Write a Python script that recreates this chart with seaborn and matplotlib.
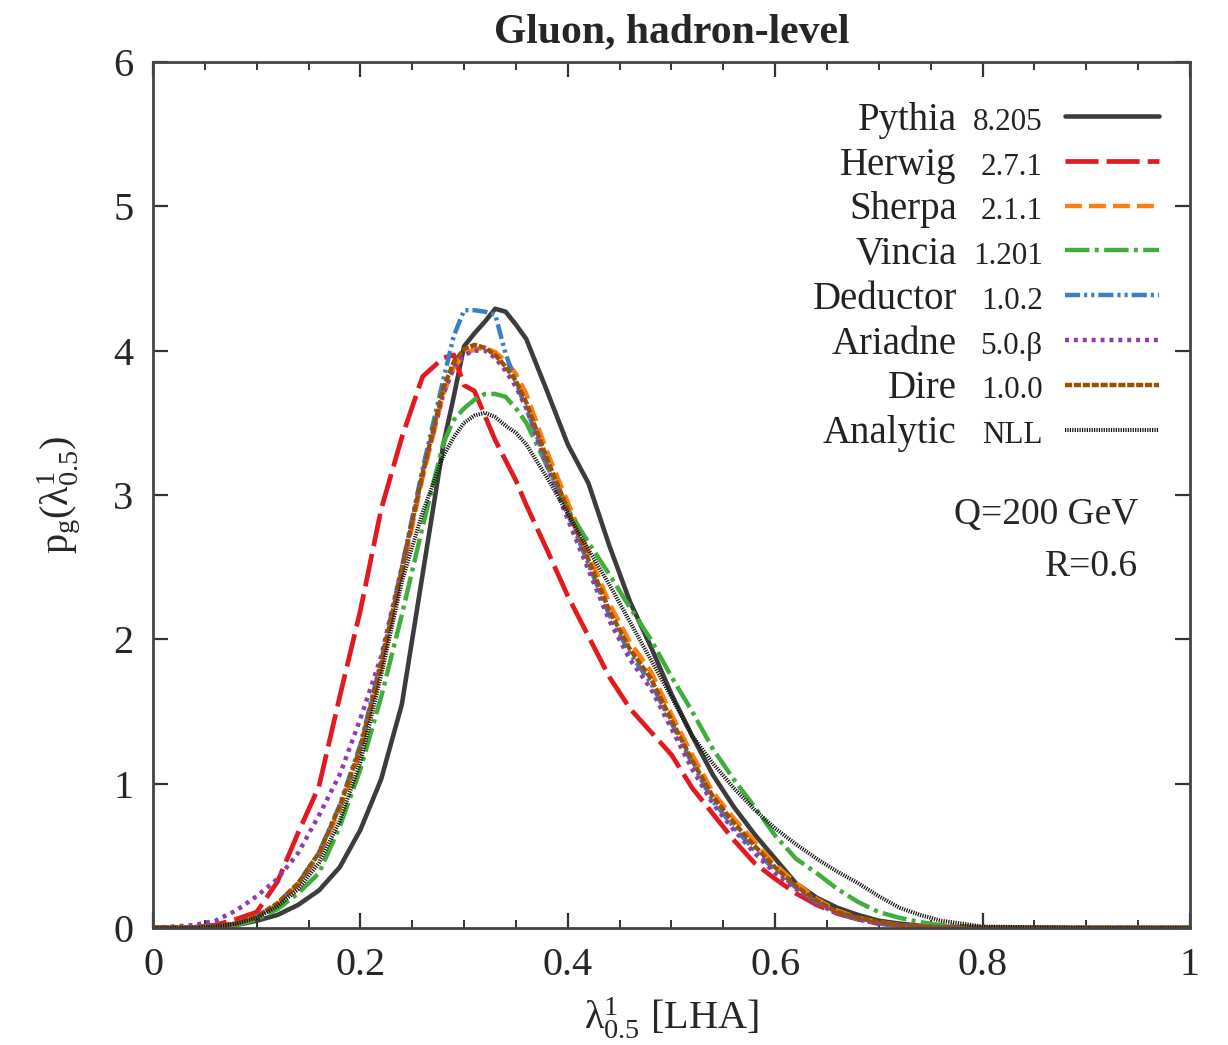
import numpy as np
import pandas as pd
import matplotlib
matplotlib.use("Agg")
import matplotlib.pyplot as plt
import seaborn as sns
from matplotlib.legend_handler import HandlerLine2D
from matplotlib.text import Text
from matplotlib.ticker import MultipleLocator

# ---------------- data ----------------
x = [0.00, 0.04, 0.06, 0.08, 0.10, 0.12, 0.14, 0.16, 0.18, 0.20, 0.22, 0.24, 0.26, 0.28,
     0.29, 0.30, 0.31, 0.32, 0.33, 0.34, 0.35, 0.36,
     0.38, 0.40, 0.42, 0.44, 0.46, 0.48, 0.50, 0.52, 0.54, 0.56, 0.58, 0.60, 0.62, 0.64,
     0.66, 0.68, 0.70, 0.72, 0.74, 0.76, 0.80, 0.90, 1.00]

pythia = [0.0, 0.0, 0.01, 0.02, 0.05, 0.09, 0.16, 0.26, 0.42, 0.68, 1.03, 1.55, 2.45, 3.35,
          3.68, 4.03, 4.12, 4.20, 4.29, 4.27, 4.18, 4.08,
          3.72, 3.35, 3.08, 2.65, 2.26, 1.95, 1.62, 1.33, 1.06, 0.84, 0.65, 0.48, 0.31, 0.21,
          0.14, 0.09, 0.05, 0.03, 0.015, 0.01, 0.0, 0.0, 0.0]
herwig = [0.0, 0.005, 0.02, 0.06, 0.11, 0.32, 0.66, 0.98, 1.60, 2.20, 2.90, 3.40, 3.82, 3.95,
          3.97, 3.76, 3.72, 3.55, 3.38, 3.24, 3.10, 2.93,
          2.62, 2.30, 2.02, 1.74, 1.52, 1.36, 1.20, 0.97, 0.79, 0.61, 0.45, 0.34, 0.24, 0.16,
          0.10, 0.06, 0.03, 0.02, 0.01, 0.005, 0.0, 0.0, 0.0]
sherpa = [0.0, 0.005, 0.01, 0.03, 0.08, 0.16, 0.30, 0.50, 0.82, 1.22, 1.80, 2.45, 3.12, 3.70,
          3.88, 3.97, 4.01, 4.02, 3.99, 3.93, 3.84, 3.70,
          3.30, 2.95, 2.60, 2.25, 1.98, 1.78, 1.48, 1.20, 0.94, 0.76, 0.60, 0.44, 0.31, 0.20,
          0.12, 0.07, 0.04, 0.02, 0.01, 0.005, 0.0, 0.0, 0.0]
vincia = [0.0, 0.0, 0.01, 0.02, 0.06, 0.13, 0.24, 0.38, 0.70, 1.10, 1.60, 2.17, 2.78, 3.36,
          3.52, 3.60, 3.66, 3.70, 3.70, 3.68, 3.60, 3.50,
          3.20, 2.90, 2.67, 2.45, 2.22, 2.00, 1.74, 1.50, 1.24, 1.03, 0.84, 0.64, 0.48, 0.38,
          0.27, 0.18, 0.11, 0.07, 0.04, 0.02, 0.005, 0.0, 0.0]
deductor = [0.0, 0.005, 0.01, 0.03, 0.08, 0.17, 0.31, 0.52, 0.85, 1.27, 1.85, 2.50, 3.18, 3.80,
            4.10, 4.28, 4.28, 4.27, 4.25, 3.98, 3.78, 3.60,
            3.22, 2.87, 2.52, 2.17, 1.90, 1.70, 1.42, 1.14, 0.88, 0.70, 0.54, 0.40, 0.28, 0.18,
            0.11, 0.06, 0.03, 0.02, 0.01, 0.005, 0.0, 0.0, 0.0]
ariadne = [0.0, 0.02, 0.05, 0.12, 0.22, 0.34, 0.52, 0.78, 1.06, 1.45, 1.88, 2.50, 3.15, 3.70,
           3.88, 3.97, 4.00, 4.00, 3.95, 3.86, 3.75, 3.60,
           3.20, 2.83, 2.48, 2.13, 1.86, 1.66, 1.38, 1.10, 0.86, 0.68, 0.52, 0.38, 0.27, 0.17,
           0.10, 0.06, 0.03, 0.02, 0.01, 0.005, 0.0, 0.0, 0.0]
dire = [0.0, 0.005, 0.01, 0.03, 0.08, 0.17, 0.31, 0.52, 0.84, 1.25, 1.83, 2.48, 3.15, 3.74,
        3.92, 4.01, 4.04, 4.02, 3.97, 3.89, 3.79, 3.64,
        3.25, 2.90, 2.55, 2.20, 1.93, 1.73, 1.44, 1.16, 0.91, 0.73, 0.57, 0.42, 0.29, 0.19,
        0.11, 0.07, 0.04, 0.02, 0.01, 0.005, 0.0, 0.0, 0.0]
nll = [0.0, 0.0, 0.01, 0.03, 0.07, 0.15, 0.27, 0.45, 0.74, 1.15, 1.75, 2.40, 2.88, 3.27,
       3.40, 3.50, 3.55, 3.57, 3.54, 3.48, 3.43, 3.35,
       3.12, 2.87, 2.62, 2.38, 2.12, 1.86, 1.60, 1.33, 1.14, 0.97, 0.82, 0.69, 0.58, 0.48,
       0.39, 0.31, 0.22, 0.14, 0.09, 0.05, 0.01, 0.0, 0.0]

names = ["Pythia", "Herwig", "Sherpa", "Vincia", "Deductor", "Ariadne", "Dire", "Analytic"]
versions = ["8.205", "2.7.1", "2.1.1", "1.201", "1.0.2", "5.0.\u03b2", "1.0.0", "NLL"]
series = [pythia, herwig, sherpa, vincia, deductor, ariadne, dire, nll]

x_ticks = [0, 0.2, 0.4, 0.6, 0.8, 1]
x_tick_labels = ["0", "0.2", "0.4", "0.6", "0.8", "1"]
y_ticks = [0, 1, 2, 3, 4, 5, 6]

# ---------------- styles ----------------
colors = ["#3c3c3c", "#e3191f", "#ff7f0e", "#3fae3a", "#3a7fc4", "#8e3db0", "#9a5200", "#111111"]
lws = [3.3, 3.4, 3.2, 3.2, 3.2, 3.2, 3.2, 2.9]
styles = ["-", (0, (7.0, 1.7)), (0, (3.8, 1.6)), (0, (5.5, 1.2, 0.9, 1.2)),
          (0, (3.4, 0.9, 0.7, 0.9, 0.7, 0.9)), (0, (0.9, 1.1)), (0, (1.6, 0.4)),
          (0, (0.3, 0.3))]

serif = "Liberation Serif"
sns.set_theme(style="ticks")
plt.rcParams["font.family"] = [serif, "DejaVu Serif"]
plt.rcParams["mathtext.fontset"] = "custom"
plt.rcParams["mathtext.rm"] = serif
plt.rcParams["mathtext.it"] = serif + ":italic"
plt.rcParams["mathtext.bf"] = serif + ":bold"

fig = plt.figure(figsize=(12.28, 10.45), dpi=100)
ax = fig.add_axes([0.1246, 0.112, 0.8444, 0.8287])

df = pd.DataFrame({"x": x})
lines = []
for name, vals, c, lw, ls in zip(names, series, colors, lws, styles):
    df[name] = vals
    sns.lineplot(data=df, x="x", y=name, ax=ax, color=c, linewidth=lw, linestyle=ls,
                 legend=False, sort=False)
    lines.append(ax.get_lines()[-1])

ax.set_xlim(0, 1)
ax.set_ylim(0, 6)
ax.set_xticks(x_ticks)
ax.set_xticklabels(x_tick_labels)
ax.set_yticks(y_ticks)
ax.xaxis.set_minor_locator(MultipleLocator(0.05))
ax.tick_params(which="both", direction="in", top=True, right=True, color="#333333",
               labelsize=29)
ax.tick_params(axis="x", pad=14)
ax.tick_params(axis="y", pad=14)
ax.tick_params(which="major", length=11, width=1.6)
ax.tick_params(which="minor", length=6, width=1.4)
for s in ax.spines.values():
    s.set_color("#444444")
    s.set_linewidth(2.0)

ax.set_xlabel(r"$\mathregular{\lambda^{1}_{0.5}}$ [LHA]", fontsize=29, labelpad=8)
ax.set_ylabel(r"$\mathregular{p_{g}(\lambda^{1}_{0.5})}$", fontsize=29, labelpad=22)
ax.set_title("Gluon, hadron-level", fontsize=30, fontweight="bold", pad=14)

ax.text(0.95, 0.477, "Q=200 GeV", transform=ax.transAxes, ha="right", va="center", fontsize=27)
ax.text(0.95, 0.417, "R=0.6", transform=ax.transAxes, ha="right", va="center", fontsize=27)


class VersionHandler(HandlerLine2D):
    def __init__(self, version, vwidth, gap, **kw):
        super().__init__(**kw)
        self.version = version
        self.vwidth = vwidth
        self.gap = gap

    def create_artists(self, legend, orig_handle, xdescent, ydescent, width, height,
                       fontsize, trans):
        arts = super().create_artists(legend, orig_handle, xdescent - self.vwidth, ydescent,
                                      width - self.vwidth, height, fontsize, trans)
        t = Text(-xdescent + self.vwidth - self.gap, 0, self.version, fontsize=fontsize * 0.8,
                 ha="right", va="baseline", family=[serif, "DejaVu Serif"], color="#222222")
        return [t] + list(arts)


fs_leg = 28
vw = 68
line_len = 68
handler_map = {ln: VersionHandler(v, vw, 16) for ln, v in zip(lines, versions)}
leg = ax.legend(lines, names, loc="upper right", bbox_to_anchor=(0.993, 0.981),
                markerfirst=False, frameon=False, fontsize=fs_leg,
                handlelength=(vw + line_len) / fs_leg, handletextpad=0.35, labelspacing=0.2,
                borderaxespad=0.2, handler_map=handler_map)
for t in leg.get_texts():
    t.set_color("#222222")

fig.savefig("out.png", dpi=100)
